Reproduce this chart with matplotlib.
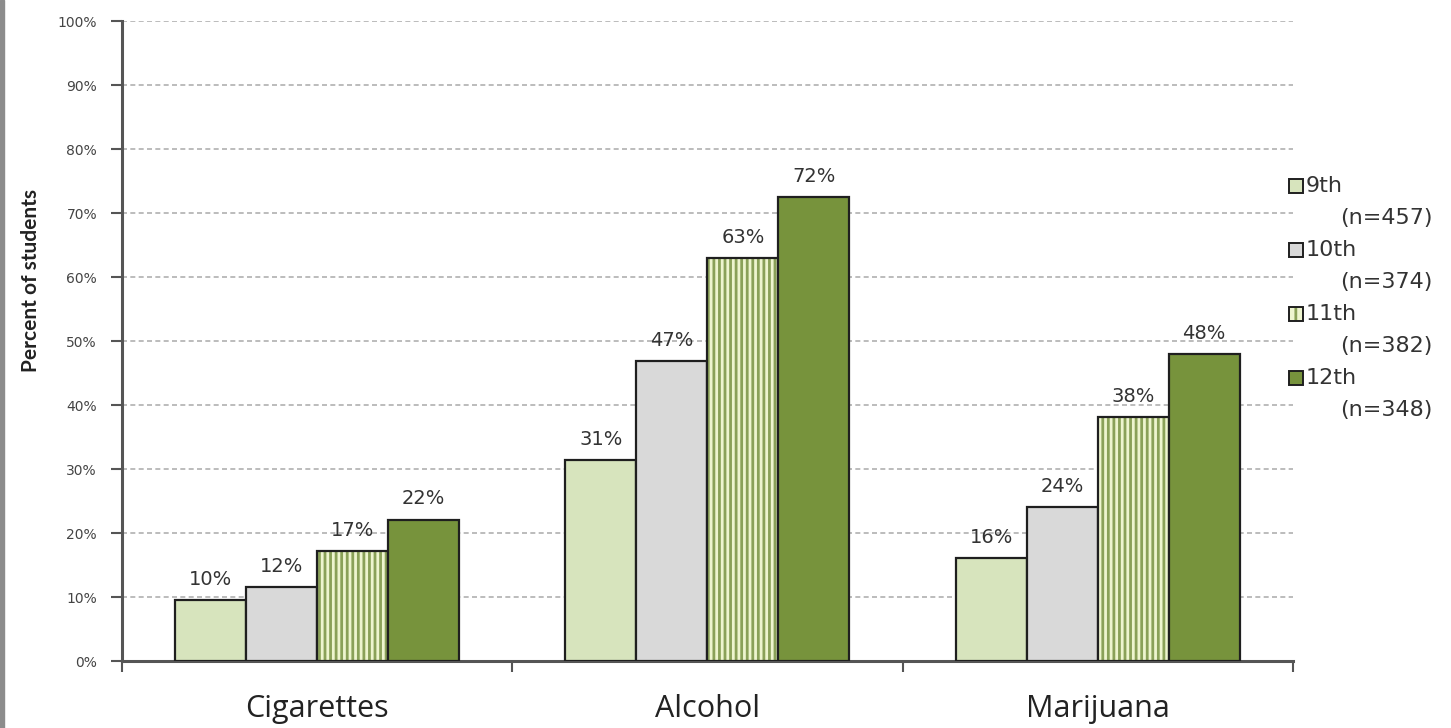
import numpy as np
import matplotlib.pyplot as plt
from matplotlib.patches import Rectangle

categories = ["Cigarettes", "Alcohol", "Marijuana"]
grades = ["9th", "10th", "11th", "12th"]
sizes = [457, 374, 382, 348]
pct_9th = [9.5, 31.4, 16.1]
pct_10th = [11.6, 46.9, 24.1]
pct_11th = [17.2, 63.0, 38.1]
pct_12th = [22.1, 72.5, 48.0]
value_labels = [["10%", "31%", "16%"],
                ["12%", "47%", "24%"],
                ["17%", "63%", "38%"],
                ["22%", "72%", "48%"]]

series = [pct_9th, pct_10th, pct_11th, pct_12th]
fills = ["#d7e4bd", "#d9d9d9", "#eef5cf", "#77933c"]
hatches = [None, None, "|||", None]
hatch_green = "#8aa158"
edge = "#1f1f1f"

plt.rcParams['hatch.linewidth'] = 2.0

fig = plt.figure(figsize=(14.51, 7.28), dpi=100)
ax = fig.add_axes([0.0841, 0.092, 0.8069, 0.879])

x = np.arange(len(categories))
w = 0.182
for i, vals in enumerate(series):
    pos = x + (i - 1.5) * w
    if hatches[i]:
        # hatch in green first, then the dark outline on top
        ax.bar(pos, vals, width=w, color=fills[i], edgecolor=hatch_green,
               linewidth=0, hatch=hatches[i], zorder=3)
        bars = ax.bar(pos, vals, width=w, fill=False, edgecolor=edge,
                      linewidth=1.6, zorder=3)
    else:
        bars = ax.bar(pos, vals, width=w, color=fills[i], edgecolor=edge,
                      linewidth=1.6, zorder=3)
    for b, lab in zip(bars, value_labels[i]):
        ax.annotate(lab, (b.get_x() + b.get_width() / 2, b.get_height()),
                    xytext=(0, 8), textcoords="offset points",
                    ha="center", va="bottom", fontsize=14,
                    family="DejaVu Sans", color="#333333", zorder=4)

ax.set_xlim(-0.5, 2.5)
ax.set_ylim(0, 100)
ax.set_yticks(np.arange(0, 101, 10))
ax.set_yticklabels(["%d%%" % v for v in range(0, 101, 10)],
                   fontsize=10, family="DejaVu Sans", color="#444444")
ax.yaxis.grid(True, linestyle=(0, (3, 2)), color="#b0b0b0", linewidth=1.2, zorder=0)
ax.tick_params(axis="y", length=8, width=1.5, color="#555555", pad=10)

ax.set_xticks([-0.5, 0.5, 1.5, 2.5])
ax.set_xticklabels([])
ax.set_xticks(x, minor=True)
ax.set_xticklabels(categories, minor=True, fontsize=22, family="Open Sans", color="#222222")
ax.tick_params(axis="x", which="major", length=8, width=1.5, color="#555555")
ax.tick_params(axis="x", which="minor", length=0, pad=24)

for s in ["top", "right"]:
    ax.spines[s].set_visible(False)
for s in ["left", "bottom"]:
    ax.spines[s].set_color("#555555")
    ax.spines[s].set_linewidth(2.2)

ax.set_ylabel("Percent of students", fontsize=15, fontweight="bold",
              family="Lato", color="#222222")
ax.yaxis.set_label_coords(-0.069, 0.595)

# legend drawn by hand: swatch beside the grade, sample size on the next line
px = lambda X, Y: ((X) / 1451, 1 - (Y) / 728)
sw_w, sw_h = 14 / 1451, 14 / 728
for i in range(len(grades)):
    y0 = 186 + 64 * i
    sx, sy = px(1289, y0 + 7)
    if hatches[i]:
        fig.patches.append(Rectangle((sx, sy), sw_w, sw_h, facecolor=fills[i],
                                     edgecolor=hatch_green, linewidth=0,
                                     hatch="||", transform=fig.transFigure))
        fig.patches.append(Rectangle((sx, sy), sw_w, sw_h, fill=False,
                                     edgecolor=edge, linewidth=1.4,
                                     transform=fig.transFigure))
    else:
        fig.patches.append(Rectangle((sx, sy), sw_w, sw_h, facecolor=fills[i],
                                     edgecolor=edge, linewidth=1.4,
                                     transform=fig.transFigure))
    fig.text(*px(1306, y0), grades[i], fontsize=16, family="DejaVu Sans",
             color="#333333", va="center", ha="left")
    fig.text(*px(1340, y0 + 32), "(n=%d)" % sizes[i], fontsize=16,
             family="DejaVu Sans", color="#333333", va="center", ha="left")

# thin grey frame edge on the left
fig.patches.append(Rectangle((0, 0), 0.003, 1, transform=fig.transFigure,
                             color="#8c8c8c", zorder=0))

fig.savefig("out.png", dpi=100)
